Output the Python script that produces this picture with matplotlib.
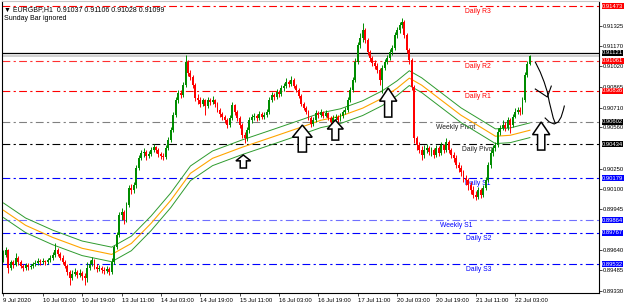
import matplotlib
matplotlib.use("Agg")
import matplotlib.pyplot as plt
import matplotlib.transforms as mtransforms
from matplotlib.patches import Polygon
import numpy as np

plt.rcParams['font.family'] = ['Liberation Sans', 'DejaVu Sans']

symbol = "EURGBP,H1"
header_ohlc = [0.91037, 0.91106, 0.91028, 0.91099]
first_open = 0.89575

# H1 bars, prices in points (1e-5)
closes_pts = [
    89598, 89636, 89500, 89545, 89523, 89575, 89545, 89515, 89500, 89523,
    89508, 89515, 89530, 89538, 89553, 89545, 89553, 89545, 89560, 89575,
    89598, 89636, 89605, 89575, 89545, 89515, 89470, 89425, 89455, 89470,
    89447, 89462, 89440, 89425, 89500, 89530, 89560, 89508, 89492, 89500,
    89485, 89477, 89492, 89470, 89545, 89658, 89749, 89899, 89922, 89861,
    89974, 90102, 90087, 90125, 90253, 90328, 90366, 90373, 90343, 90358,
    90388, 90411, 90388, 90358, 90343, 90336, 90404, 90464, 90539, 90652,
    90765, 90818, 90803, 90878, 91051, 90968, 90938, 90878, 90780, 90765,
    90735, 90765, 90720, 90765, 90750, 90765, 90735, 90690, 90660, 90637,
    90614, 90577, 90630, 90727, 90675, 90630, 90577, 90501, 90479, 90539,
    90614, 90637, 90645, 90630, 90660, 90637, 90652, 90675, 90765, 90803,
    90788, 90825, 90810, 90855, 90870, 90901, 90885, 90916, 90870, 90840,
    90795, 90735, 90705, 90675, 90630, 90584, 90614, 90667, 90652, 90675,
    90645, 90667, 90630, 90599, 90630, 90637, 90614, 90645, 90675, 90690,
    90765, 90840, 90916, 91051, 91179, 91232, 91292, 91217, 91126, 91081,
    91044, 91021, 90991, 90916, 91006, 91051, 91081, 91126, 91157, 91254,
    91292, 91330, 91352, 91254, 91141, 91066, 90863, 90479, 90426, 90388,
    90351, 90388, 90404, 90373, 90388, 90351, 90404, 90366, 90426, 90388,
    90449, 90388, 90351, 90328, 90276, 90253, 90223, 90178, 90163, 90125,
    90087, 90050, 90035, 90087, 90050, 90102, 90163, 90276, 90366, 90404,
    90426, 90524, 90554, 90577, 90554, 90614, 90577, 90637, 90675, 90690,
    90675, 90765, 90953, 91036, 91099,
]
highs_pts = [
    89636, 89658, 89643, 89560, 89560, 89613, 89590, 89560, 89530, 89538,
    89538, 89530, 89545, 89560, 89575, 89568, 89575, 89560, 89575, 89598,
    89620, 89688, 89651, 89620, 89598, 89560, 89530, 89485, 89485, 89500,
    89485, 89492, 89477, 89462, 89545, 89560, 89583, 89568, 89530, 89523,
    89515, 89508, 89515, 89508, 89575, 89673, 89771, 89922, 89952, 89937,
    89997, 90125, 90132, 90148, 90276, 90351, 90388, 90404, 90388, 90381,
    90411, 90434, 90419, 90404, 90373, 90366, 90426, 90486, 90562, 90675,
    90788, 90840, 90840, 90901, 91104, 91066, 90991, 90953, 90893, 90810,
    90788, 90780, 90773, 90788, 90780, 90795, 90773, 90750, 90705, 90675,
    90652, 90630, 90652, 90750, 90735, 90690, 90645, 90592, 90524, 90562,
    90637, 90660, 90667, 90660, 90682, 90675, 90675, 90697, 90788, 90825,
    90818, 90848, 90840, 90878, 90893, 90931, 90916, 90946, 90931, 90885,
    90855, 90810, 90750, 90720, 90690, 90645, 90637, 90690, 90682, 90697,
    90682, 90690, 90675, 90645, 90652, 90660, 90652, 90667, 90690, 90712,
    90788, 90863, 90938, 91081, 91202, 91270, 91345, 91307, 91232, 91141,
    91096, 91066, 91044, 91006, 91029, 91074, 91104, 91149, 91179, 91277,
    91315, 91352, 91382, 91367, 91270, 91157, 91081, 90878, 90494, 90449,
    90419, 90426, 90434, 90419, 90411, 90404, 90426, 90419, 90449, 90434,
    90479, 90464, 90404, 90373, 90351, 90298, 90276, 90238, 90200, 90178,
    90148, 90117, 90080, 90110, 90102, 90125, 90185, 90298, 90388, 90426,
    90449, 90554, 90577, 90614, 90599, 90637, 90630, 90660, 90705, 90712,
    90712, 90788, 90976, 91059, 91106,
]
lows_pts = [
    89545, 89583, 89462, 89485, 89500, 89515, 89523, 89500, 89477, 89485,
    89485, 89492, 89500, 89515, 89523, 89523, 89530, 89523, 89530, 89545,
    89560, 89583, 89590, 89560, 89530, 89500, 89447, 89372, 89410, 89440,
    89425, 89432, 89410, 89372, 89395, 89485, 89515, 89492, 89470, 89477,
    89462, 89455, 89462, 89447, 89455, 89530, 89643, 89733, 89861, 89831,
    89846, 89959, 90057, 90065, 90102, 90238, 90313, 90336, 90313, 90328,
    90343, 90373, 90366, 90336, 90321, 90313, 90321, 90388, 90449, 90524,
    90637, 90742, 90780, 90788, 90863, 90946, 90916, 90855, 90757, 90735,
    90712, 90720, 90652, 90705, 90727, 90735, 90712, 90675, 90637, 90614,
    90592, 90554, 90562, 90614, 90652, 90607, 90554, 90479, 90441, 90456,
    90516, 90592, 90614, 90607, 90614, 90622, 90622, 90637, 90660, 90750,
    90765, 90773, 90788, 90795, 90833, 90855, 90863, 90870, 90855, 90825,
    90780, 90720, 90690, 90660, 90614, 90562, 90569, 90599, 90630, 90637,
    90630, 90637, 90614, 90584, 90584, 90614, 90599, 90607, 90630, 90660,
    90675, 90750, 90825, 90901, 91036, 91157, 91202, 91194, 91104, 91059,
    91021, 90998, 90968, 90878, 90818, 90991, 91036, 91066, 91104, 91141,
    91232, 91270, 91307, 91232, 91119, 91036, 90840, 90441, 90388, 90366,
    90313, 90328, 90366, 90351, 90343, 90328, 90336, 90343, 90351, 90366,
    90373, 90366, 90328, 90298, 90253, 90223, 90193, 90148, 90125, 90087,
    90057, 90027, 90012, 90020, 90027, 90035, 90087, 90148, 90253, 90343,
    90381, 90411, 90501, 90539, 90532, 90539, 90516, 90562, 90630, 90660,
    90652, 90660, 90750, 90938, 91028,
]

date_labels = ["9 Jul 2020", "10 Jul 03:00", "10 Jul 19:00", "13 Jul 11:00",
               "14 Jul 03:00", "14 Jul 19:00", "15 Jul 11:00", "16 Jul 03:00",
               "16 Jul 19:00", "17 Jul 11:00", "20 Jul 03:00", "20 Jul 19:00",
               "21 Jul 11:00", "22 Jul 03:00"]
label_step = 16

# moving average (orange), with envelope (green)
ma_bars = [0, 9, 20, 32, 44, 52, 60, 68, 76, 85, 97, 109, 121, 129, 137,
           146, 154, 160, 165, 170, 178, 186, 194, 200, 206, 214]
ma_vals = [0.89937, 0.89824, 0.89733, 0.89651, 0.89605, 0.89688, 0.89839,
           0.90012, 0.90215, 0.90328, 0.90411, 0.90486, 0.90562, 0.90614,
           0.90645, 0.90705, 0.90780, 0.90855, 0.90931, 0.90878, 0.90765,
           0.90652, 0.90562, 0.90494, 0.90501, 0.90539]
envelope = 0.00055

level_names = ["Daily R3", "Daily R2", "Daily R1", "Weekly Pivot", "Daily Pivot",
               "Daily S1", "Weekly S1", "Daily S2", "Daily S3"]
level_values = [0.91473, 0.91061, 0.90836, 0.90602, 0.90434,
                0.90179, 0.89864, 0.89767, 0.89532]
level_colors = ["#ff0000", "#ff3030", "#ff0000", "#808080", "#000000",
                "#0000ff", "#7070ff", "#0000ff", "#0000ff"]
text_colors = ["#ff0000", "#ff0000", "#ff0000", "#202020", "#202020",
               "#0000ff", "#0000ff", "#0000ff", "#0000ff"]
box_colors = ["#ff0000", "#ff0000", "#ff0000", "#000000", "#000000",
              "#0000ff", "#0000ff", "#0000ff", "#0000ff"]
hline_value = 0.91121
bid_value = 0.91099

tick_values = [0.91325, 0.91170, 0.91020, 0.90865, 0.90710, 0.90560,
               0.90250, 0.90100, 0.89945, 0.89640, 0.89485, 0.89330]

# hollow up arrows: bar, tip price, base price, width in bars
arrows = [(97.5, 0.90353, 0.90255, 6.0), (121.5, 0.90578, 0.90375, 8.0),
          (134.9, 0.90616, 0.90465, 6.5), (156.4, 0.90856, 0.90638, 7.0),
          (218.6, 0.90601, 0.90390, 7.0)]

# hand drawn sketch on the right
sketch = [
    [(216.2, 0.91052), (218.2, 0.90977), (219.8, 0.90902), (221.1, 0.90826),
     (221.9, 0.90751), (222.7, 0.90691), (223.5, 0.90631), (224.3, 0.90593)],
    [(216.2, 0.90849), (221.1, 0.90789), (222.7, 0.90871)],
    [(220.2, 0.90631), (221.9, 0.90601), (223.9, 0.90586), (225.5, 0.90601),
     (226.7, 0.90638), (227.6, 0.90691), (228.0, 0.90721)],
]

closes = np.array(closes_pts) / 1e5
highs = np.array(highs_pts) / 1e5
lows = np.array(lows_pts) / 1e5
opens = np.concatenate([[first_open], closes[:-1]])
highs = np.maximum(highs, np.maximum(opens, closes))
lows = np.minimum(lows, np.minimum(opens, closes))
x = np.arange(len(closes))

fig = plt.figure(figsize=(6.25, 3.07), dpi=100)
ax = fig.add_axes([2 / 625, 14 / 307, 597 / 625, 292 / 307])
ax.set_xlim(-0.6, 242.1)
ax.set_ylim(0.89315, 0.91511)

# levels
for name, v, c, tc in zip(level_names, level_values, level_colors, text_colors):
    ax.axhline(v, color=c, lw=0.8, linestyle=(0, (7, 3, 2, 3)), zorder=1)
    lx = 184 if name.startswith("Weekly") else 193
    ax.annotate(name, (lx, v), xytext=(0, -1.3), textcoords='offset points',
                ha='center', va='top', fontsize=4.9, color=tc, zorder=2)
ax.axhline(bid_value, color="#c8c8c8", lw=1.2, zorder=1)
ax.axhline(hline_value, color="black", lw=0.9, zorder=1)

# envelope + MA
ma = np.array(ma_vals)
ax.plot(ma_bars, ma * (1 + envelope / 0.9), color="#2e9b2e", lw=0.7, zorder=3)
ax.plot(ma_bars, ma * (1 - envelope / 0.9), color="#2e9b2e", lw=0.7, zorder=3)
ax.plot(ma_bars, ma, color="#ffa500", lw=0.8, zorder=3)

# candles
up = closes >= opens
cols = np.where(up, "#008c00", "#ff0000")
ax.vlines(x, lows, highs, colors=cols, lw=0.7, zorder=4)
body = np.maximum(np.abs(closes - opens), 0.00002)
ax.bar(x, body, bottom=np.minimum(opens, closes), width=0.78, color=cols,
       linewidth=0, zorder=5)

# arrows
for bx, tip, base, w in arrows:
    hh = (tip - base) * 0.45
    sw = w * 0.42
    pts = [(bx, tip), (bx + w / 2, tip - hh), (bx + sw / 2, tip - hh),
           (bx + sw / 2, base), (bx - sw / 2, base), (bx - sw / 2, tip - hh),
           (bx - w / 2, tip - hh)]
    ax.add_patch(Polygon(pts, closed=True, fc="white", ec="black", lw=1.1, zorder=6))

for stroke in sketch:
    sx, sy = zip(*stroke)
    ax.plot(sx, sy, color="black", lw=0.8, zorder=6)

# axes styling
for s in ["left", "bottom", "right"]:
    ax.spines[s].set_color("black")
    ax.spines[s].set_linewidth(0.8)
ax.spines["top"].set_color("#c8c8c8")

ax.yaxis.tick_right()
ax.set_yticks(tick_values)
ax.set_yticklabels([f"{v:.5f}" for v in tick_values])
ax.tick_params(axis='y', labelsize=4.2, length=2, width=0.5, pad=1)

ticks = list(range(0, len(date_labels) * label_step, label_step))
ax.set_xticks(ticks)
ax.set_xticklabels(date_labels, ha='left')
ax.tick_params(axis='x', labelsize=4.3, length=2, width=0.5, pad=1.5)

trans = mtransforms.blended_transform_factory(ax.transAxes, ax.transData)
for v, c in zip(level_values + [hline_value], box_colors + ["#000000"]):
    ax.text(1.0 + 3 / 597, v, f"{v:.5f}", transform=trans, ha='left', va='center',
            fontsize=4.2, color="white", clip_on=False, zorder=7,
            bbox=dict(boxstyle='square,pad=0.06', fc=c, ec='none'))

header = "\u25bc " + symbol + "  " + " ".join(f"{v:.5f}" for v in header_ohlc)
fig.text(4 / 625, 1 - 10 / 307, header, fontsize=5.0, va='center', ha='left')
fig.text(4 / 625, 1 - 19 / 307, "Sunday Bar ignored", fontsize=5.0, va='center', ha='left')

fig.savefig("out.png", dpi=100, facecolor="white")
